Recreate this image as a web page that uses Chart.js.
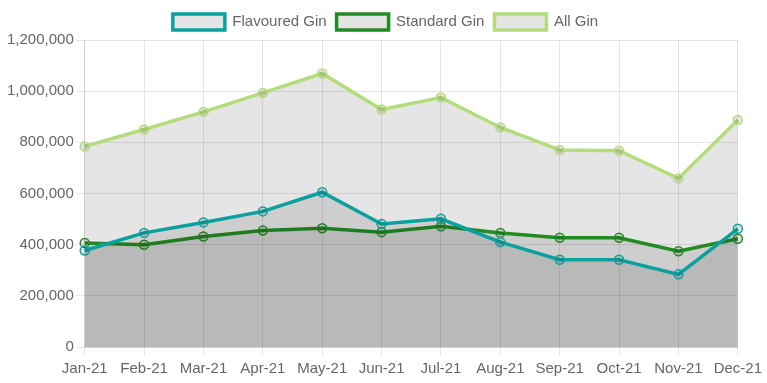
<!DOCTYPE html>
<html>
<head>
<meta charset="utf-8">
<script src="https://cdn.jsdelivr.net/npm/chart.js@4"></script>
<style>
html,body{margin:0;padding:0;background:#fff;}
#wrap{width:767px;height:383px;}
</style>
</head>
<body>
<div id="wrap"><canvas id="c"></canvas></div>
<script>
const categories = ["Jan-21","Feb-21","Mar-21","Apr-21","May-21","Jun-21","Jul-21","Aug-21","Sep-21","Oct-21","Nov-21","Dec-21"];
const flavouredGin = [377000,446000,487000,530000,605000,481000,501000,410000,341000,341000,284000,462000];
const standardGin = [407000,400000,432000,455000,464000,449000,472000,446000,427000,427000,374000,423000];
const allGin = [784000,850000,919000,993000,1069000,928000,975000,858000,770000,767000,659000,887000];
const yTicks = [0,200000,400000,600000,800000,1000000,1200000];

Chart.defaults.font.family = "'Liberation Sans', Arial, Helvetica, sans-serif";
Chart.defaults.font.size = 15;
Chart.defaults.color = '#666';

function ds(label, data, color){
  return {
    label, data,
    borderColor: color,
    backgroundColor: 'rgba(0,0,0,0.1)',
    pointBorderColor: color,
    pointBackgroundColor: 'rgba(0,0,0,0.1)',
    borderWidth: 3.5,
    pointRadius: 4.5,
    pointBorderWidth: 1.5,
    fill: 'origin',
    tension: 0
  };
}

new Chart(document.getElementById('c'), {
  type: 'line',
  data: {
    labels: categories,
    datasets: [
      ds('Flavoured Gin', flavouredGin, '#0aa0a0'),
      ds('Standard Gin', standardGin, '#228b22'),
      ds('All Gin', allGin, '#b5dc7c')
    ]
  },
  options: {
    responsive: true,
    maintainAspectRatio: false,
    animation: false,
    layout: {padding: {left: 4, right: 0, top: 4, bottom: 0}},
    plugins: {
      legend: {
        position: 'top',
        labels: {boxWidth: 52, boxHeight: 16, padding: 10, color: '#666', font: {size: 15}}
      },
      tooltip: {enabled: false}
    },
    scales: {
      x: {
        grid: {color: 'rgba(0,0,0,0.1)'},
        ticks: {color: '#666', maxRotation: 0, autoSkip: false, padding: 5}
      },
      y: {
        min: 0, max: 1200000,
        afterBuildTicks: (axis) => { axis.ticks = yTicks.map(v => ({value: v})); },
        grid: {color: 'rgba(0,0,0,0.1)'},
        ticks: {color: '#666', callback: (v) => v.toLocaleString('en-US')}
      }
    }
  }
});
</script>
</body>
</html>
